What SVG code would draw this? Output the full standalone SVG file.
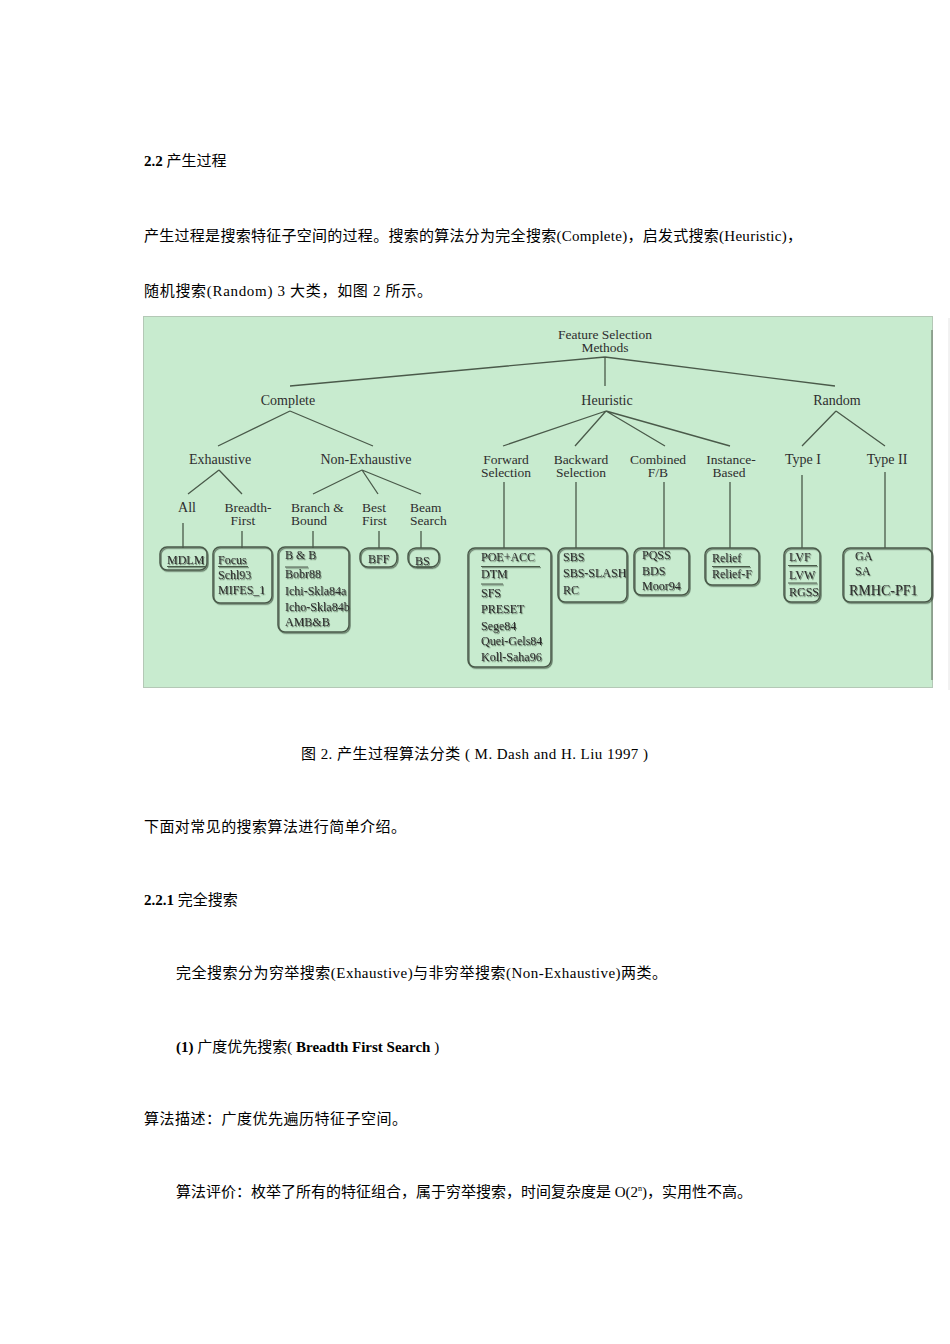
<svg xmlns="http://www.w3.org/2000/svg" width="950" height="1344" viewBox="0 0 950 1344">
<style>
.pg{font-family:"Liberation Serif","Noto Sans CJK SC",serif;font-size:15px;fill:#000}
.b{font-weight:bold}
.d{font-family:"Liberation Serif",serif;font-size:14px;fill:#2e2e2e}
.t{font-family:"Liberation Serif",serif;font-size:13.5px;fill:#2e2e2e}
.s{font-family:"Liberation Serif",serif;font-size:12px;fill:#2e2e2e}
.m{text-anchor:middle}
.e{fill:none;stroke:#4a5a4a;stroke-width:1.3}
.bx{fill:none;stroke:#4a5a4a;stroke-width:1.5}
.u{stroke:#4a5a4a;stroke-width:1}
</style>
<defs>
<filter id="sh" x="-10%" y="-10%" width="130%" height="130%">
<feDropShadow dx="1" dy="1.2" stdDeviation="0.4" flood-color="#2a3a2a" flood-opacity="0.6"/>
</filter>
</defs>
<rect width="950" height="1344" fill="#fff"/>

<g id="page-text-top">
<text x="144" y="166" class="pg"><tspan class="b">2.2</tspan> 产生过程</text>
<text x="144" y="241" class="pg" textLength="658">产生过程是搜索特征子空间的过程。搜索的算法分为完全搜索(Complete)，启发式搜索(Heuristic)，</text>
<text x="144" y="296" class="pg" textLength="288">随机搜索(Random) 3 大类，如图 2 所示。</text>
</g>

<g id="panel">
<rect x="143.5" y="316.5" width="789" height="371" fill="#c8ebcf" stroke="#b4c8b6" stroke-width="1"/>
<line x1="932" y1="330" x2="932" y2="680" stroke="#7f927f" stroke-width="1.5"/>
<line x1="949" y1="318" x2="949" y2="690" stroke="#e4e4e4" stroke-width="1"/>
</g>

<g id="connectors">
<path class="e" d="M605,357 L290,386 M605,357 L835,386 M605,357 L605,386"/>
<path class="e" d="M290,411 L218,446 M290,411 L373,446"/>
<path class="e" d="M219,470 L188,494 M219,470 L242,494"/>
<path class="e" d="M362,470 L313,494 M362,470 L378,494 M362,470 L421,494"/>
<path class="e" d="M606,411 L503,446 M606,411 L575,446 M606,411 L665,446 M606,411 L730,446"/>
<path class="e" d="M836,411 L802,446 M836,411 L885,446"/>
<path class="e" d="M183,523 V548 M242,531 V548 M313,531 V548 M379,531 V548 M421,531 V548"/>
<path class="e" d="M504,482 V548 M576,482 V548 M664,482 V548 M730,482 V548 M802,475 V548 M885,472 V548"/>
</g>

<g id="n-root"><text class="t m" x="605" y="338.5">Feature Selection<tspan x="605" dy="13">Methods</tspan></text></g>
<g id="n-complete"><text class="d m" x="288" y="405">Complete</text></g>
<g id="n-heuristic"><text class="d m" x="607" y="405">Heuristic</text></g>
<g id="n-random"><text class="d m" x="837" y="405">Random</text></g>
<g id="n-exhaustive"><text class="d m" x="220" y="464">Exhaustive</text></g>
<g id="n-nonexhaustive"><text class="d m" x="366" y="464">Non-Exhaustive</text></g>
<g id="n-forward"><text class="t m" x="506" y="463.5">Forward<tspan x="506" dy="13">Selection</tspan></text></g>
<g id="n-backward"><text class="t m" x="581" y="463.5">Backward<tspan x="581" dy="13">Selection</tspan></text></g>
<g id="n-combined"><text class="t m" x="658" y="463.5">Combined<tspan x="658" dy="13">F/B</tspan></text></g>
<g id="n-instance"><text class="t m" x="731" y="463.5">Instance-<tspan x="729" dy="13">Based</tspan></text></g>
<g id="n-type1"><text class="d m" x="803" y="464">Type I</text></g>
<g id="n-type2"><text class="d m" x="887" y="464">Type II</text></g>
<g id="n-all"><text class="d m" x="187" y="511.5">All</text></g>
<g id="n-breadth"><text class="t m" x="248" y="511.5">Breadth-<tspan x="243" dy="13">First</tspan></text></g>
<g id="n-branch"><text class="t" x="291" y="511.5">Branch &amp;<tspan x="291" dy="13">Bound</tspan></text></g>
<g id="n-best"><text class="t" x="362" y="511.5">Best<tspan x="362" dy="13">First</tspan></text></g>
<g id="n-beam"><text class="t" x="410" y="511.5">Beam<tspan x="410" dy="13">Search</tspan></text></g>

<g id="b-mdlm" filter="url(#sh)">
<rect class="bx" x="160" y="547" width="47" height="23" rx="7"/>
<text class="s" x="167" y="564">MDLM</text>
<line class="u" x1="167" y1="566.5" x2="205" y2="566.5"/>
</g>
<g id="b-focus" filter="url(#sh)">
<rect class="bx" x="213" y="547" width="59" height="56" rx="7"/>
<text class="s" x="218" y="564">Focus<tspan x="218" y="579">Schl93</tspan><tspan x="218" y="594">MIFES_1</tspan></text>
<line class="u" x1="218" y1="566.5" x2="248" y2="566.5"/>
</g>
<g id="b-bb" filter="url(#sh)">
<rect class="bx" x="278" y="547" width="71" height="85" rx="7"/>
<text class="s" x="285" y="559">B &amp; B<tspan x="285" y="578">Bobr88</tspan><tspan x="285" y="595">Ichi-Skla84a</tspan><tspan x="285" y="611">Icho-Skla84b</tspan><tspan x="285" y="626">AMB&amp;B</tspan></text>
<line class="u" x1="285" y1="567" x2="308" y2="567"/>
</g>
<g id="b-bff" filter="url(#sh)">
<rect class="bx" x="360" y="548" width="37" height="19" rx="8"/>
<text class="s" x="368" y="563">BFF</text>
</g>
<g id="b-bs" filter="url(#sh)">
<rect class="bx" x="408" y="548" width="31" height="19" rx="8"/>
<text class="s" x="415" y="565">BS</text>
<line class="u" x1="416" y1="567" x2="432" y2="567"/>
</g>
<g id="b-poe" filter="url(#sh)">
<rect class="bx" x="468" y="548" width="83" height="119" rx="7"/>
<text class="s" x="481" y="561">POE+ACC<tspan x="481" y="578">DTM</tspan><tspan x="481" y="597">SFS</tspan><tspan x="481" y="613">PRESET</tspan><tspan x="481" y="630">Sege84</tspan><tspan x="481" y="645">Quei-Gels84</tspan><tspan x="481" y="661">Koll-Saha96</tspan></text>
<line class="u" x1="481" y1="566.5" x2="540" y2="566.5"/>
<line class="u" x1="481" y1="584" x2="503" y2="584"/>
</g>
<g id="b-sbs" filter="url(#sh)">
<rect class="bx" x="558" y="548" width="69" height="54" rx="7"/>
<text class="s" x="563" y="561">SBS<tspan x="563" y="577">SBS-SLASH</tspan><tspan x="563" y="594">RC</tspan></text>
</g>
<g id="b-pqss" filter="url(#sh)">
<rect class="bx" x="634" y="548" width="55" height="47" rx="7"/>
<text class="s" x="642" y="559">PQSS<tspan x="642" y="575">BDS</tspan><tspan x="642" y="590">Moor94</tspan></text>
</g>
<g id="b-relief" filter="url(#sh)">
<rect class="bx" x="705" y="548" width="54" height="37" rx="7"/>
<text class="s" x="712" y="562">Relief<tspan x="712" y="578">Relief-F</tspan></text>
<line class="u" x1="712" y1="566.5" x2="750" y2="566.5"/>
</g>
<g id="b-lvf" filter="url(#sh)">
<rect class="bx" x="784" y="548" width="36" height="54" rx="7"/>
<text class="s" x="789" y="561">LVF<tspan x="789" y="579">LVW</tspan><tspan x="789" y="596">RGSS</tspan></text>
<line class="u" x1="788" y1="565.5" x2="817" y2="565.5"/>
<line class="u" x1="788" y1="583" x2="817" y2="583"/>
</g>
<g id="b-ga" filter="url(#sh)">
<rect class="bx" x="843" y="548" width="89" height="54" rx="7"/>
<text class="s" x="855" y="560">GA<tspan x="855" y="575">SA</tspan></text>
<text class="d" x="849" y="595">RMHC-PF1</text>
</g>

<g id="page-text-bottom">
<text x="301" y="759" class="pg" textLength="347">图 2. 产生过程算法分类 ( M. Dash and H. Liu 1997 )</text>
<text x="144" y="832" class="pg" textLength="262">下面对常见的搜索算法进行简单介绍。</text>
<text x="144" y="905" class="pg"><tspan class="b">2.2.1</tspan> 完全搜索</text>
<text x="176" y="978" class="pg" textLength="491">完全搜索分为穷举搜索(Exhaustive)与非穷举搜索(Non-Exhaustive)两类。</text>
<text x="176" y="1052" class="pg"><tspan class="b">(1)</tspan> 广度优先搜索(<tspan class="b"> Breadth First Search </tspan>)</text>
<text x="144" y="1124" class="pg" textLength="263">算法描述：广度优先遍历特征子空间。</text>
<text x="176" y="1197" class="pg">算法评价：枚举了所有的特征组合，属于穷举搜索，时间复杂度是 O(2<tspan font-size="8" dy="-6">n</tspan><tspan dy="6">)，实用性不高。</tspan></text>
</g>
</svg>
